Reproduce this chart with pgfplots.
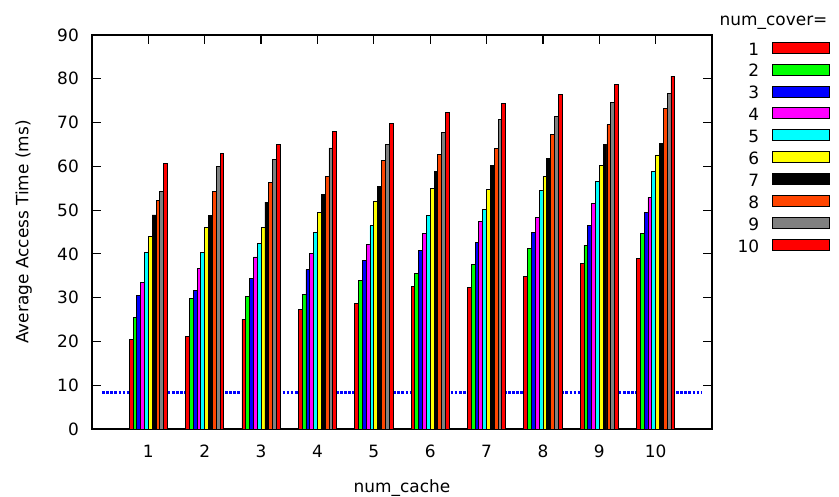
\documentclass[border=0pt]{standalone}
\usepackage{fontspec}
\setmainfont{DejaVu Sans}
\usepackage{pgfplots}
\usepackage{pgfplotstable}
\pgfplotsset{compat=1.18}
\definecolor{cred}{HTML}{FF0000}
\definecolor{cgreen}{HTML}{00FF00}
\definecolor{cblue}{HTML}{0000FF}
\definecolor{cmagenta}{HTML}{FF00FF}
\definecolor{ccyan}{HTML}{00FFFF}
\definecolor{cyellow}{HTML}{FFFF00}
\definecolor{corange}{HTML}{FF4500}
\definecolor{cgray}{HTML}{808080}
\newcommand{\f}{\fontsize{17pt}{20pt}\selectfont}
\pgfplotstableread{
x  c1   c2   c3   c4   c5   c6   c7   c8   c9   c10
1  20.5 25.5 30.5 33.5 40.4 44.0 48.9 52.2 54.2 60.7
2  21.2 29.9 31.7 36.6 40.4 46.1 48.7 54.2 60.0 63.0
3  25.1 30.3 34.3 39.3 42.3 46.1 51.8 56.4 61.6 65.1
4  27.3 30.8 36.4 40.1 44.8 49.4 53.6 57.6 64.2 68.0
5  28.6 34.0 38.4 42.2 46.4 52.1 55.5 61.4 64.9 69.8
6  32.6 35.6 40.7 44.6 48.8 55.0 58.8 62.8 67.8 72.4
7  32.4 37.6 42.6 47.5 50.2 54.8 60.3 64.0 70.8 74.4
8  34.9 41.3 44.8 48.4 54.5 57.6 61.9 67.3 71.4 76.5
9  37.9 42.0 46.5 51.6 56.6 60.2 65.0 69.5 74.5 78.8
10 39.0 44.6 49.4 52.9 58.9 62.6 65.3 73.3 76.7 80.6
}\datatable
\pgfplotsset{
  mybar/.style={ybar, bar width=0.068, draw=black, line width=0.8bp,
    legend image code/.code={\draw[##1, line width=0.8bp] (0bp,-4.6bp) rectangle (57bp,6.4bp);}},
}
\begin{document}
\begin{tikzpicture}
\begin{axis}[
  scale only axis, width=620bp, height=394bp,
  xmin=0, xmax=11, ymin=0, ymax=90,
  xtick={1,...,10}, ytick={0,10,...,90},
  tick align=inside, major tick length=9bp,
  axis line style={line width=1.2bp, black},
  every tick/.style={line width=1.2bp, black},
  /pgf/number format/assume math mode=true,
  tick label style={font=\f},
  xticklabel style={inner sep=0pt, anchor=north, yshift=-16bp},
  yticklabel style={inner sep=0pt, anchor=east, xshift=-13bp},
  xlabel={num\_cache},
  ylabel={Average Access Time (ms)},
  label style={font=\f},
  xlabel style={at={(axis description cs:0.5,-0.1269)}, anchor=north, inner sep=0pt},
  ylabel style={at={(axis description cs:-0.0968,0.5)}, anchor=south, inner sep=0pt},
  legend style={draw=none, fill=none, inner sep=0pt, outer sep=0pt,
    at={(axis description cs:1.1903,0.983)}, anchor=north east,
    font=\f, row sep=8.6bp, column sep=13bp,
    nodes={inner sep=0pt, text height=13bp, text depth=0pt}},
  legend cell align=right, legend plot pos=right,
]
\addplot[cblue, line width=3bp, dash pattern=on 2.7bp off 1.4bp, forget plot] coordinates {(0.18,8.3) (10.82,8.3)};
\addplot[mybar, fill=cred, bar shift=-0.306] table[x=x, y=c1] {\datatable};
\addlegendentry{1}
\addplot[mybar, fill=cgreen, bar shift=-0.238] table[x=x, y=c2] {\datatable};
\addlegendentry{2}
\addplot[mybar, fill=cblue, bar shift=-0.170] table[x=x, y=c3] {\datatable};
\addlegendentry{3}
\addplot[mybar, fill=cmagenta, bar shift=-0.102] table[x=x, y=c4] {\datatable};
\addlegendentry{4}
\addplot[mybar, fill=ccyan, bar shift=-0.034] table[x=x, y=c5] {\datatable};
\addlegendentry{5}
\addplot[mybar, fill=cyellow, bar shift=0.034] table[x=x, y=c6] {\datatable};
\addlegendentry{6}
\addplot[mybar, fill=black, bar shift=0.102] table[x=x, y=c7] {\datatable};
\addlegendentry{7}
\addplot[mybar, fill=corange, bar shift=0.170] table[x=x, y=c8] {\datatable};
\addlegendentry{8}
\addplot[mybar, fill=cgray, bar shift=0.238] table[x=x, y=c9] {\datatable};
\addlegendentry{9}
\addplot[mybar, fill=cred, bar shift=0.306] table[x=x, y=c10] {\datatable};
\addlegendentry{10}
\end{axis}
\node[anchor=base west, inner sep=0pt, font=\f] at ([xshift=7.5bp, yshift=10bp]current axis.north east) {num\_cover=};
\path ([xshift=-92bp,yshift=-68bp]current axis.south west) rectangle ([xshift=747bp,yshift=429bp]current axis.south west);
\end{tikzpicture}
\end{document}
